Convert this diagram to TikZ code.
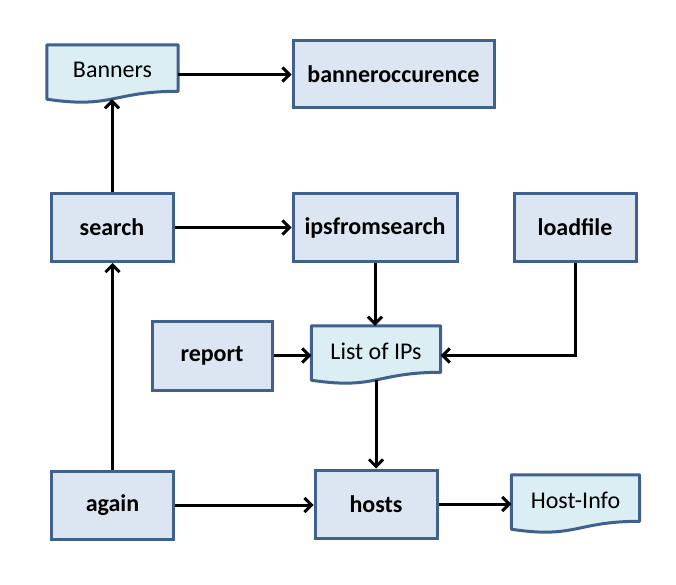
\documentclass[tikz,border=0pt]{standalone}
\usepackage{fontspec}
\setmainfont{Carlito}
\usetikzlibrary{arrows.meta,calc,backgrounds}
\definecolor{procfill}{HTML}{DCE6F2}
\definecolor{docfill}{HTML}{DBEEF4}
\definecolor{edgeblue}{HTML}{40618C}
\begin{document}
\begin{tikzpicture}[x=1pt,y=-1pt,
  proc/.style={draw=edgeblue, fill=procfill, line width=3pt, minimum width=122pt, minimum height=68pt, inner sep=0pt, font=\fontsize{24}{28}\selectfont\bfseries},
  doc/.style={minimum height=54pt, inner sep=0pt, font=\fontsize{24}{28}\selectfont},
  docline/.style={draw=edgeblue, fill=docfill, line width=3pt, line join=round},
  conn/.style={line width=3pt, -{Straight Barb[length=7pt,width=14pt]}}]
\useasboundingbox (0,0) rectangle (676,585);

\node[doc, minimum width=131pt] (banners) at (112.5,72) {\raisebox{4pt}{Banners}};
\node[proc, minimum width=201pt, minimum height=67pt] (bocc) at (393.5,74.5) {banneroccurence};
\node[proc] (search) at (112,227.5) {search};
\node[proc, minimum width=164pt] (ips) at (375,227.5) {ipsfromsearch};
\node[proc] (load) at (575,227.5) {loadfile};
\node[proc, minimum width=120pt, minimum height=69pt] (report) at (212,355.5) {report};
\node[doc, minimum width=129pt] (list) at (376,353) {\raisebox{4pt}{List of IPs}};
\node[proc] (again) at (112.5,505) {again};
\node[proc] (hosts) at (376,504) {hosts};
\node[doc, minimum width=128pt] (hinfo) at (575.5,502) {\raisebox{4pt}{Host-Info}};

\begin{scope}[on background layer]
\foreach \n in {banners,list,hinfo} {
  \draw[docline] (\n.north west) -- (\n.north east) -- ($(\n.north east)+(0,46.5)$)
    .. controls ($(\n.north)+(0,46.5)$) and ($(\n.north)+(0,64.2)$) .. (\n.south west) -- cycle;
}
\end{scope}

\draw[conn] (banners.east |- bocc.west) -- (bocc.west);
\draw[conn] (search.north) -- (search.north |- banners.south);
\draw[conn] (search.east) -- (ips.west);
\draw[conn] (ips.south) -- (ips.south |- list.north);
\draw[conn] (load.south) |- (list.east |- report.east);
\draw[conn] (report.east) -- (report.east -| list.west);
\draw[conn] (list.south) -- (list.south |- hosts.north);
\draw[conn] (again.north) -- (again.north |- search.south);
\draw[conn] (again.east) -- (again.east -| hosts.west);
\draw[conn] (hosts.east) -- (hosts.east -| hinfo.west);
\end{tikzpicture}
\end{document}
